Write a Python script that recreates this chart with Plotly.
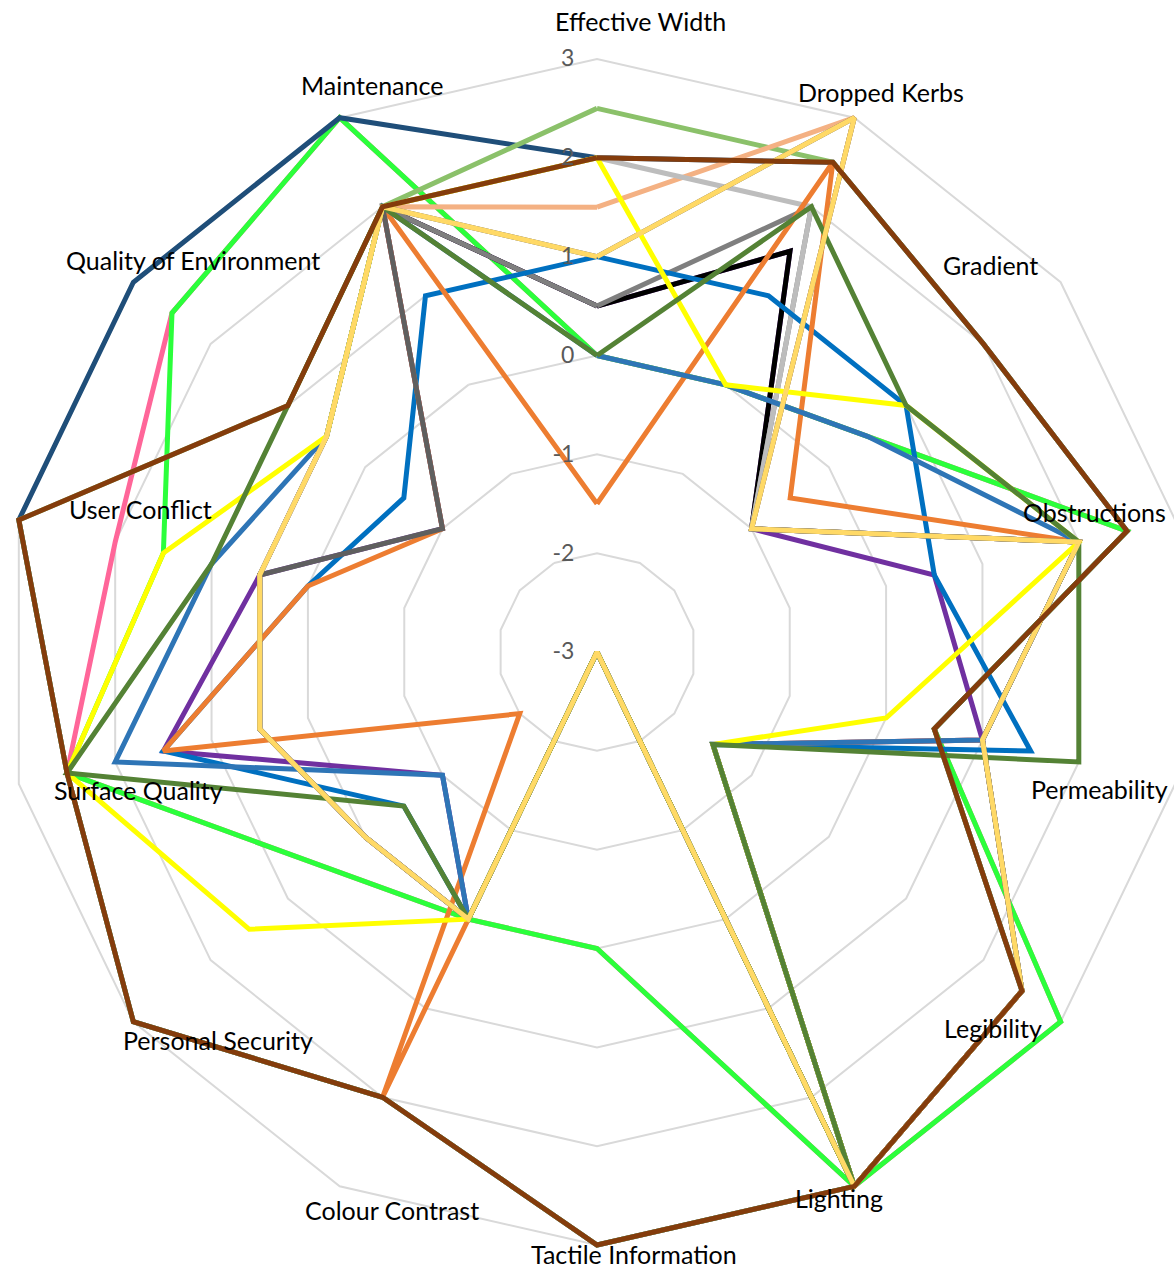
import plotly.graph_objects as go

# ---------------- data ----------------
categories = ["Effective Width", "Dropped Kerbs", "Gradient", "Obstructions",
              "Permeability", "Legibility", "Lighting", "Tactile Information",
              "Colour Contrast", "Personal Security", "Surface Quality",
              "User Conflict", "Quality of Environment", "Maintenance"]

radial_ticks = [-3, -2, -1, 0, 1, 2, 3]
radial_tick_labels = ["-3", "-2", "-1", "0", "1", "2", "3"]

pink       = [0, 0, 0.5, 2.5, 0.5, 3, 3, 0, 0, 0.5, 2.5, 2, 2.5, 3]
green      = [0, 0, 0.5, 2.5, 0.5, 3, 3, 0, 0, 0.5, 2.5, 1.5, 2.5, 3]
navy       = [2, 2.5, 2, 2.5, 0.5, 2.5, 3, 3, 2, 3, 2.5, 3, 3, 3]
lightgreen = [2.5, 2.5, 2, 2.5, 0.5, 2.5, 3, 3, 2, 3, 2.5, 3, 1, 2]
salmon     = [1.5, 3, -1, 2, 1, 2.5, 3, -3, 0, 0, 0.5, 0.5, 0.5, 2]
purple     = [0.5, 1.5, -1, 0.5, 1, -1.5, 3, -3, 0, -1, 1.5, 0.5, -1, 2]
black      = [0.5, 1.5, -1, 2, 1, 2.5, 3, -3, 0, 0, 0.5, 0.5, 0.5, 2]
midgrey    = [0.5, 2, -1, 2, 1, 2.5, 3, -3, 0, 0, 0.5, 0.5, 0.5, 2]
lightgrey  = [2, 2, -1, 2, 1, 2.5, 3, -3, 0, 0, 0.5, 0.5, 0.5, 2]
blue       = [1, 1, 1, 0.5, 1.5, -1.5, 3, -3, 0, -0.5, 1.5, 0, -0.5, 1]
orange     = [-1.5, 2.5, -0.5, 2, 1, -1.5, 3, -3, 2, -2, 1.5, 0, -1, 2]
darkgrey   = [1, 3, -1, 2, 1, 2.5, 3, -3, 0, 0, 0.5, 0.5, -1, 2]
steelblue  = [0, 0, 0.5, 2, 1, -1.5, 3, -3, 0, -1, 2, 1, 0.5, 2]
yellow     = [2, 0, 1, 2, 0, -1.5, 3, -3, 0, 1.5, 2.5, 1.5, 0.5, 2]
olive      = [0, 2, 1, 2, 2, -1.5, 3, -3, 0, -0.5, 2.5, 1, 1, 2]
gold       = [1, 3, -1, 2, 1, 2.5, 3, -3, 0, 0, 0.5, 0.5, 0.5, 2]
brown      = [2, 2.5, 2, 2.5, 0.5, 2.5, 3, 3, 2, 3, 2.5, 3, 1, 2]

series = [("pink", pink), ("green", green), ("navy", navy),
          ("lightgreen", lightgreen), ("salmon", salmon), ("purple", purple),
          ("black", black), ("midgrey", midgrey), ("lightgrey", lightgrey),
          ("blue", blue), ("orange", orange), ("darkgrey", darkgrey),
          ("steelblue", steelblue), ("yellow", yellow), ("olive", olive),
          ("gold", gold), ("brown", brown)]

# ---------------- styles ----------------
colors = {"pink": "#FF6699", "green": "#2BFF3B", "navy": "#1F4E79",
          "lightgreen": "#8BC16A", "salmon": "#F4B183", "purple": "#7030A0",
          "black": "#000000", "midgrey": "#7F7F7F", "lightgrey": "#BDBDBD",
          "blue": "#0070C0", "orange": "#ED7D31", "darkgrey": "#5F5F5F",
          "steelblue": "#2E75B6", "yellow": "#FFFF00", "olive": "#548235",
          "gold": "#FFD966", "brown": "#843C0C"}

W, H = 1194, 1271
M_T = 33
R_MAX = 3.04   # a little head-room so lines on the outer ring are not clipped
# category label centres (page pixels)
label_px = [(640, 21), (881, 92), (991, 265), (1094, 512), (1099, 789),
            (993, 1028), (839, 1198), (634, 1254), (392, 1210), (218, 1040),
            (138, 790), (140, 509), (193, 260), (372, 85)]

fig = go.Figure()
for name, vals in series:
    fig.add_trace(go.Scatterpolar(
        r=vals + [vals[0]], theta=categories + [categories[0]],
        mode="lines", name=name, hoverinfo="skip", cliponaxis=False,
        line=dict(color=colors[name], width=5)))

annotations = []
for cat, (px, py) in zip(categories, label_px):
    annotations.append(dict(
        text=cat, xref="paper", yref="paper",
        x=px / W, y=(H - py) / (H - M_T), xanchor="center", yanchor="middle",
        showarrow=False, font=dict(family="Lato", size=25, color="#000000")))

fig.update_layout(
    width=W, height=H, margin=dict(l=0, r=0, t=M_T, b=0, pad=0),
    paper_bgcolor="white", plot_bgcolor="white", showlegend=False,
    annotations=annotations,
    polar=dict(
        domain=dict(x=[0, 1], y=[0, 1]), bgcolor="white", gridshape="linear",
        angularaxis=dict(rotation=90, direction="clockwise",
                         categoryorder="array", categoryarray=categories,
                         showgrid=False, showticklabels=False, ticks="",
                         showline=False),
        radialaxis=dict(range=[-3, R_MAX], tickvals=radial_ticks,
                        ticktext=radial_tick_labels, angle=90,
                        tickangle=90, side="counterclockwise", showline=False,
                        ticks="outside", ticklen=14,
                        tickcolor="rgba(0,0,0,0)", gridcolor="#D9D9D9",
                        gridwidth=1.5,
                        tickfont=dict(family="Lato", size=23,
                                      color="#595959"))))

fig.write_html("out.html", config={"displayModeBar": False},
               post_script="document.body.style.margin='0';")
